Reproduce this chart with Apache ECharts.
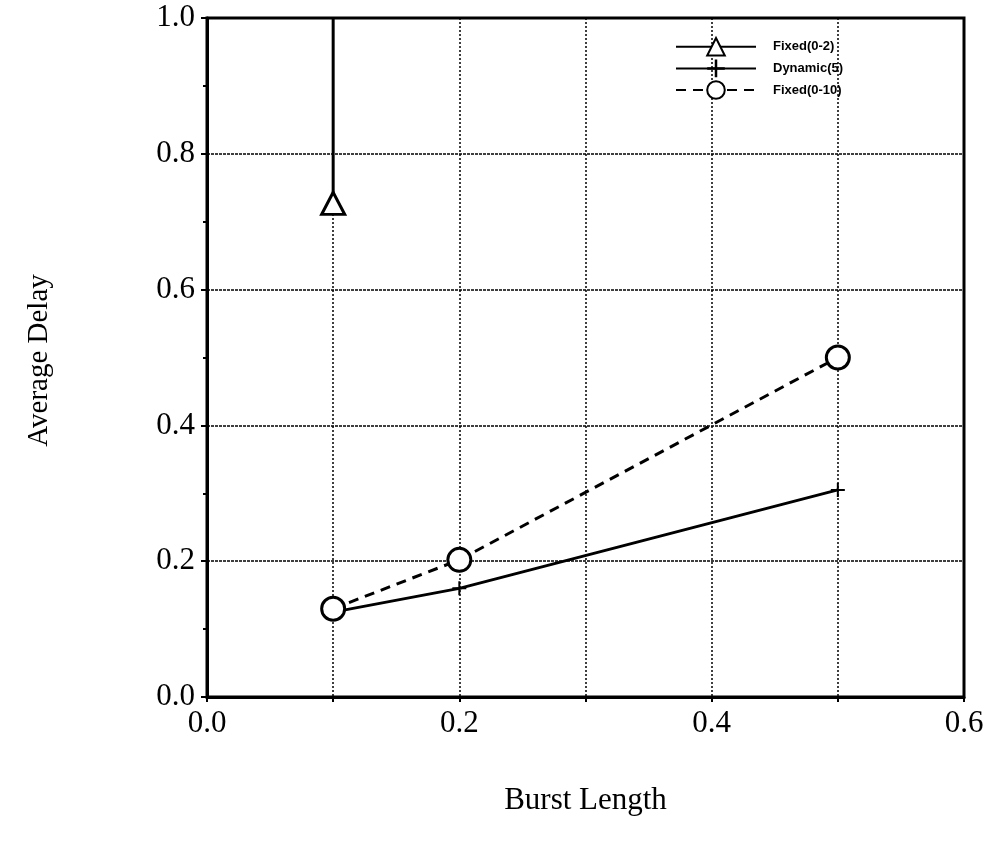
<!DOCTYPE html>
<html><head><meta charset="utf-8">
<script src="https://cdn.jsdelivr.net/npm/echarts@6/dist/echarts.min.js"></script>
<style>html,body{margin:0;padding:0;background:#fff}#c{width:989px;height:845px}</style>
</head><body><div id="c"></div>
<script>
const xTicks = [0.0, 0.1, 0.2, 0.3, 0.4, 0.5, 0.6];
const yTicks = [0.0, 0.2, 0.4, 0.6, 0.8, 1.0];
const seriesNames = ['Fixed(0-2)', 'Dynamic(5)', 'Fixed(0-10)'];
const fixed02 = [[0.1, 0.727], [0.1, 1.0]];
const dynamic5 = [[0.1, 0.125], [0.2, 0.16], [0.5, 0.305]];
const fixed010 = [[0.1, 0.13], [0.2, 0.202], [0.5, 0.5]];

const serif = '"Liberation Serif", "DejaVu Serif", serif';
const sans = '"Liberation Sans", Arial, sans-serif';
const plusPath = 'path://M6,0h2v14h-2zM0,6h14v2h-14z';

const chart = echarts.init(document.getElementById('c'));
chart.setOption({
  backgroundColor: '#fff',
  animation: false,
  grid: {left: 207, right: 25, top: 18, bottom: 148, show: true, borderColor: '#000', borderWidth: 3},
  legend: {
    orient: 'vertical', left: 670, top: 32, itemWidth: 80, itemHeight: 22, itemGap: 3,
    textStyle: {fontFamily: sans, fontSize: 13, fontWeight: 'bold', color: '#000', padding: [0, 0, 0, 12]},
    data: seriesNames
  },
  xAxis: {
    type: 'value', min: 0, max: 0.6, interval: 0.1,
    name: 'Burst Length', nameLocation: 'middle', nameGap: 88,
    nameTextStyle: {fontFamily: serif, fontSize: 31, color: '#000'},
    axisLine: {lineStyle: {color: '#000', width: 3}},
    axisTick: {show: true, length: 5, lineStyle: {color: '#000', width: 2}},
    axisLabel: {fontFamily: serif, fontSize: 31, color: '#000', margin: 11,
      formatter: v => (Math.round(v * 10) % 2 === 0 ? v.toFixed(1) : '')},
    splitLine: {show: true, lineStyle: {color: '#000', width: 1.5, type: [2, 2]}}
  },
  yAxis: {
    type: 'value', min: 0, max: 1.0, interval: 0.2,
    name: 'Average Delay', nameLocation: 'middle', nameGap: 153, nameRotate: 90,
    nameTextStyle: {fontFamily: serif, fontSize: 29, color: '#000', padding: [0, 6, 0, 0]},
    axisLine: {lineStyle: {color: '#000', width: 3}},
    axisTick: {show: true, length: 6, lineStyle: {color: '#000', width: 2}},
    minorTick: {show: true, splitNumber: 2, length: 4, lineStyle: {color: '#000', width: 2}},
    axisLabel: {fontFamily: serif, fontSize: 31, color: '#000', margin: 12, padding: [6, 0, 0, 0],
      formatter: v => v.toFixed(1)},
    splitLine: {show: true, lineStyle: {color: '#000', width: 1.5, type: [3, 1]}}
  },
  series: [
    {
      name: seriesNames[0], type: 'line', z: 3,
      data: fixed02.map((p, i) => (i === 0 ? p : {value: p, symbol: 'none'})),
      symbol: 'triangle', symbolSize: [23, 22],
      lineStyle: {color: '#000', width: 3},
      itemStyle: {color: '#fff', borderColor: '#000', borderWidth: 3}
    },
    {
      name: seriesNames[1], type: 'line', data: dynamic5, z: 2,
      symbol: plusPath, symbolSize: [14, 14],
      lineStyle: {color: '#000', width: 3},
      itemStyle: {color: '#000', borderWidth: 0}
    },
    {
      name: seriesNames[2], type: 'line', data: fixed010, z: 4,
      symbol: 'circle', symbolSize: 23,
      lineStyle: {color: '#000', width: 3, type: [10, 7]},
      itemStyle: {color: '#fff', borderColor: '#000', borderWidth: 3}
    }
  ]
});
</script></body></html>
